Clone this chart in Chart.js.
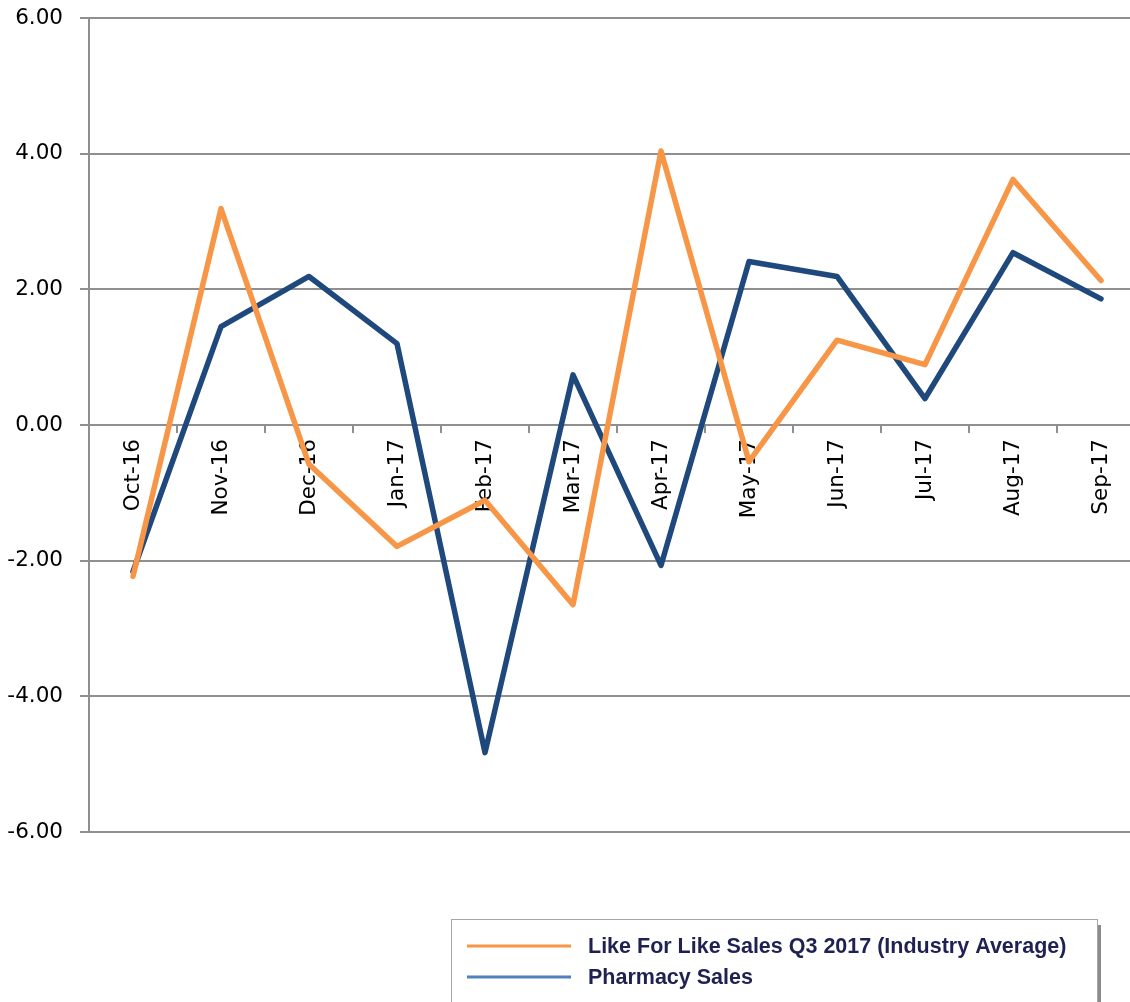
<!DOCTYPE html>
<html>
<head>
<meta charset="utf-8">
<script src="https://cdn.jsdelivr.net/npm/chart.js@4.4.1/dist/chart.umd.min.js"></script>
<style>
    html, body { margin: 0; padding: 0; background: #ffffff; overflow: hidden; }
    #wrap { position: relative; width: 1146px; height: 1002px; }
</style>
</head>
<body>
<div id="wrap"><canvas id="salesChart"></canvas></div>
<script>
// Monthly sales change, Oct 2016 - Sep 2017
const months = ['Oct-16', 'Nov-16', 'Dec-16', 'Jan-17', 'Feb-17', 'Mar-17',
                'Apr-17', 'May-17', 'Jun-17', 'Jul-17', 'Aug-17', 'Sep-17'];
const likeForLike = [-2.23, 3.19, -0.58, -1.79, -1.11, -2.65, 4.04, -0.54, 1.25, 0.89, 3.62, 2.13];
const pharmacy = [-2.16, 1.45, 2.19, 1.20, -4.83, 0.74, -2.07, 2.41, 2.19, 0.39, 2.54, 1.86];
const yTicks = [-6, -4, -2, 0, 2, 4, 6];

const gridGrey = '#8f8f8f';
const tickFont = { family: '"DejaVu Sans", sans-serif', size: 21.5 };

// Boxed legend in the lower right, drawn after the chart
const legendBox = {
    id: 'legendBox',
    afterDraw(chart) {
        const ctx = chart.ctx;
        const x = 451, y = 919, w = 646, h = 110;
        ctx.save();
        // drop shadow on the right edge
        ctx.fillStyle = '#8c8c8c';
        ctx.fillRect(x + w, y + 6, 4, h);
        ctx.fillStyle = '#ffffff';
        ctx.fillRect(x, y, w, h);
        ctx.strokeStyle = '#a6a6a6';
        ctx.lineWidth = 1;
        ctx.strokeRect(x + 0.5, y + 0.5, w, h);

        ctx.font = 'bold 21.5px "Liberation Sans", Arial, sans-serif';
        ctx.textBaseline = 'middle';
        ctx.textAlign = 'left';
        chart.data.datasets.forEach((ds, i) => {
            const ly = y + 27 + i * 31;
            ctx.strokeStyle = ds.legendColor;
            ctx.lineWidth = 3;
            ctx.beginPath();
            ctx.moveTo(x + 16, ly);
            ctx.lineTo(x + 120, ly);
            ctx.stroke();
            ctx.fillStyle = '#1f2152';
            ctx.fillText(ds.label, x + 137, ly + 1);
        });
        ctx.restore();
    }
};

const ctx = document.getElementById('salesChart');

new Chart(ctx, {
    type: 'line',
    data: {
        labels: months,
        datasets: [{
            label: 'Like For Like Sales Q3 2017 (Industry Average)',
            data: likeForLike,
            borderColor: '#f79646',
            legendColor: '#f79646',
            borderWidth: 5.5,
            borderJoinStyle: 'round',
            borderCapStyle: 'round',
            pointRadius: 0,
            tension: 0
        }, {
            label: 'Pharmacy Sales',
            data: pharmacy,
            borderColor: '#1f497d',
            legendColor: '#4f81bd',
            borderWidth: 5.5,
            borderJoinStyle: 'round',
            borderCapStyle: 'round',
            pointRadius: 0,
            tension: 0
        }]
    },
    options: {
        responsive: true,
        maintainAspectRatio: false,
        animation: false,
        layout: {
            padding: { top: 18, right: 1, bottom: 170, left: 0 }
        },
        plugins: {
            legend: { display: false },
            tooltip: { enabled: false }
        },
        scales: {
            x: {
                type: 'category',
                position: { y: 0 },
                offset: true,
                grid: {
                    offset: true,
                    drawOnChartArea: false,
                    drawTicks: true,
                    tickLength: 8,
                    color: gridGrey,
                    lineWidth: 2
                },
                border: { display: false },
                ticks: {
                    autoSkip: false,
                    minRotation: 90,
                    maxRotation: 90,
                    padding: 6,
                    color: '#000000',
                    font: tickFont
                }
            },
            y: {
                min: -6,
                max: 6,
                afterBuildTicks(scale) {
                    scale.ticks = yTicks.map(v => ({ value: v }));
                },
                afterFit(scale) {
                    scale.width = 89;
                    // the label gap should not push the plot top down
                    scale.paddingTop = 0;
                    scale.paddingBottom = 0;
                },
                grid: {
                    color: gridGrey,
                    lineWidth: 2,
                    tickLength: 9
                },
                border: { display: true, color: gridGrey, width: 2 },
                ticks: {
                    padding: 17,
                    color: '#000000',
                    font: tickFont,
                    callback: v => v.toFixed(2)
                }
            }
        }
    },
    plugins: [legendBox]
});
</script>
</body>
</html>
